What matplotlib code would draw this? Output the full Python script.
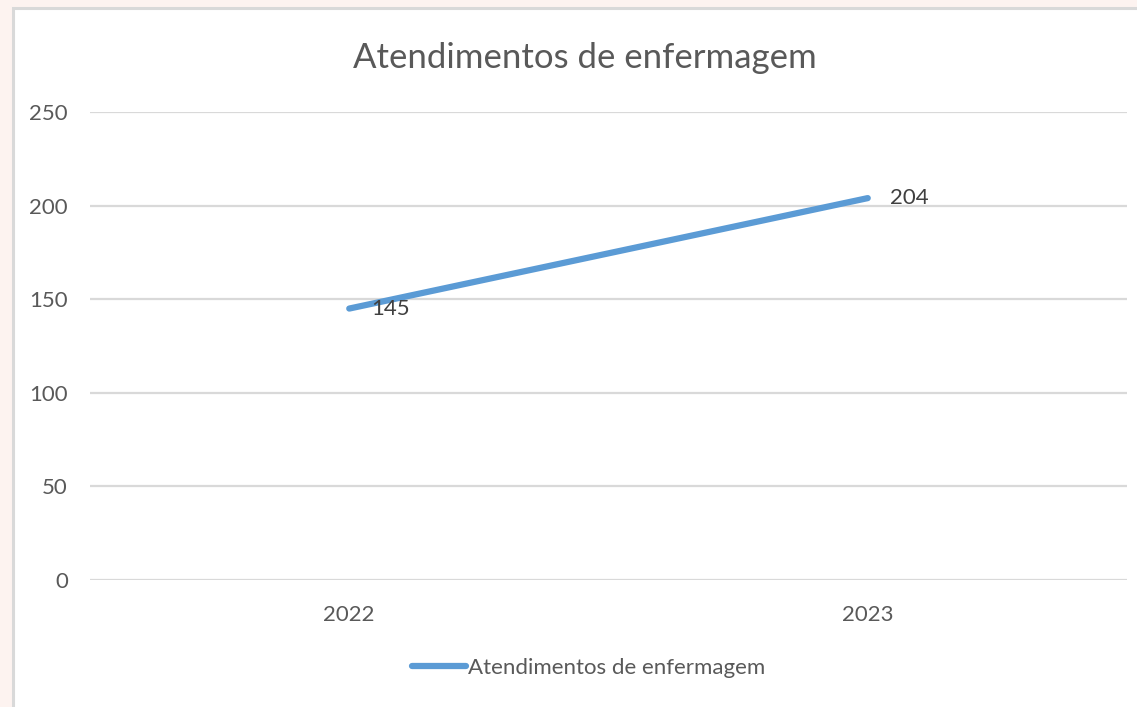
import matplotlib
matplotlib.use("Agg")
import matplotlib.pyplot as plt
from matplotlib.patches import Rectangle
from matplotlib.lines import Line2D

categories = ["2022", "2023"]
values = [145, 204]
series_name = "Atendimentos de enfermagem"
title = "Atendimentos de enfermagem"
yticks = [0, 50, 100, 150, 200, 250]

W, H = 1137, 707
plt.rcParams['font.family'] = ['Lato', 'DejaVu Sans']
fig = plt.figure(figsize=(W / 100, H / 100), dpi=100)
fig.patch.set_facecolor("#fdf3f0")

# chart area (white box with gray border, extending past right/bottom edges)
fig.patches.append(Rectangle((13 / W, -0.05), 1.2, 1 - 8 / H + 0.05, transform=fig.transFigure,
                             facecolor="white", edgecolor="#d9d9d9", linewidth=2.2, zorder=-5))

ax = fig.add_axes([90 / W, 1 - 580 / H, (1127 - 90) / W, (580 - 112) / H])
ax.set_zorder(2)
ax.set_facecolor("none")
x = list(range(len(categories)))
ax.plot(x, values, color="#5b9bd5", linewidth=4.5, solid_capstyle="round", zorder=3)
for xi, v in zip(x, values):
    ax.annotate(str(v), (xi, v), xytext=(16, 0), textcoords="offset points",
                ha="left", va="center", fontsize=16, color="#404040")

ax.set_xlim(-0.5, len(categories) - 0.5)
ax.set_ylim(0, 250)
ax.set_yticks(yticks)
ax.set_xticks(x)
ax.set_xticklabels(categories)
ax.grid(axis="y", color="#d9d9d9", linewidth=1.6)
ax.set_axisbelow(True)
for s in ax.spines.values():
    s.set_visible(False)
ax.tick_params(length=0, labelsize=16, labelcolor="#595959")
ax.tick_params(axis="y", pad=16)
ax.tick_params(axis="x", pad=18)

fig.text(585 / W, 1 - 58 / H, title, ha="center", va="center", fontsize=25, color="#595959")

handle = Line2D([], [], color="#5b9bd5", linewidth=4.5, solid_capstyle="round")
fig.legend([handle], [series_name], loc="center", bbox_to_anchor=(589 / W, 1 - 668 / H),
           frameon=False, fontsize=16, labelcolor="#595959", handlelength=2.4,
           handletextpad=0.12)

fig.savefig("out.png", dpi=100, facecolor=fig.get_facecolor())
